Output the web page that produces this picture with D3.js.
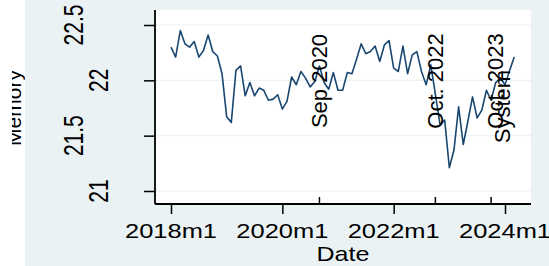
<!DOCTYPE html>
<html>
<head>
<meta charset="utf-8">
<script src="https://cdn.jsdelivr.net/npm/d3@7"></script>
<style>
  body { margin: 0; background: #ffffff; }
  text { font-family: "Liberation Sans", Arial, sans-serif; fill: #000; }
</style>
</head>
<body>
<div class="chart"></div>
<script>
// Memory series, monthly from 2018m1 to 2024m3

var startMonth = "2018m1";
var memory = [
  22.30, 22.21, 22.45, 22.33, 22.30, 22.35, 22.21, 22.27, 22.41, 22.26, 22.22, 22.06,
  21.67, 21.62, 22.09, 22.13, 21.86, 21.98, 21.86, 21.93, 21.91, 21.82, 21.83, 21.87,
  21.74, 21.81, 22.03, 21.96, 22.08, 22.02, 21.94, 21.99, 22.13, 21.98, 21.92, 22.07,
  21.91, 21.91, 22.07, 22.06, 22.19, 22.33, 22.24, 22.26, 22.31, 22.17, 22.32, 22.36,
  22.11, 22.08, 22.31, 22.06, 22.23, 22.26, 22.08, 21.96, 22.14, 21.87, 21.60, 21.64,
  21.21, 21.37, 21.76, 21.42, 21.63, 21.85, 21.66, 21.73, 21.91, 21.82, 21.98, 22.02,
  21.96, 22.09, 22.21
];

var xTicks = ["2018m1", "2020m1", "2022m1", "2024m1"];
var yTicks = [21, 21.5, 22, 22.5];
var yTickLabels = ["21", "21.5", "22", "22.5"];

var eventMonths = ["2020m9", "2022m10", "2023m10"];
var eventLabels = ["Sep 2020", "Oct. 2022", "Oct. 2023"];
var extraLabel = "System";

// stata style monthly index
function monthIndex(s) {
  var p = s.split("m");
  return (+p[0]) * 12 + (+p[1] - 1);
}
var m0 = monthIndex(startMonth);
var data = memory.map(function(v, i) { return { t: m0 + i, v: v }; });

var svgWidth = 549;
var svgHeight = 266;

// plot region
var margin = { top: 10, right: 18, bottom: 62, left: 155 };
var width = svgWidth - margin.left - margin.right;
var height = svgHeight - margin.top - margin.bottom;

var svg = d3.select(".chart")
  .append("svg")
  .attr("width", svgWidth)
  .attr("height", svgHeight);

// graph background
svg.append("rect")
  .attr("x", 25).attr("y", 0)
  .attr("width", svgWidth - 25).attr("height", svgHeight)
  .attr("fill", "#eaf2f3");

var chart = svg.append("g")
  .attr("transform", "translate(" + margin.left + "," + margin.top + ")");

chart.append("rect")
  .attr("width", width).attr("height", height)
  .attr("fill", "#ffffff");

var xScale = d3.scaleLinear()
  .domain([monthIndex("2018m1"), monthIndex("2024m1")])
  .range([16, 350]);

var yScale = d3.scaleLinear()
  .domain([21, 22.5])
  .range([181, 15]);

// gridlines
chart.selectAll(".grid")
  .data(yTicks)
  .enter().append("line")
  .attr("x1", 0).attr("x2", width)
  .attr("y1", function(d) { return yScale(d); })
  .attr("y2", function(d) { return yScale(d); })
  .attr("stroke", "#eaf2f3")
  .attr("stroke-width", 1.2);

// the line
var line = d3.line()
  .x(function(d) { return xScale(d.t); })
  .y(function(d) { return yScale(d.v); });

chart.append("path")
  .datum(data)
  .attr("d", line)
  .attr("fill", "none")
  .attr("stroke", "#1a476f")
  .attr("stroke-width", 1.6)
  .attr("stroke-linejoin", "round");

// event ticks on the x axis
chart.selectAll(".evtick")
  .data(eventMonths)
  .enter().append("line")
  .attr("x1", function(d) { return xScale(monthIndex(d)); })
  .attr("x2", function(d) { return xScale(monthIndex(d)); })
  .attr("y1", height).attr("y2", height - 7)
  .attr("stroke", "#000").attr("stroke-width", 1.5);

// event labels
var evOffsets = [8, 8, 11.5];
chart.selectAll(".evlabel")
  .data(eventLabels)
  .enter().append("text")
  .attr("text-anchor", "middle")
  .style("font-size", "22px")
  .attr("transform", function(d, i) {
    var x = xScale(monthIndex(eventMonths[i])) + evOffsets[i];
    return "translate(" + x + "," + (71) + ") rotate(-90)";
  })
  .text(function(d) { return d; });

chart.append("text")
  .attr("text-anchor", "middle")
  .style("font-size", "22px")
  .attr("transform", "translate(" + (xScale(monthIndex("2023m10")) + 19) + ",96.5) rotate(-90)")
  .text(extraLabel);

// axes
var bottomAxis = d3.axisBottom(xScale)
  .tickValues(xTicks.map(monthIndex))
  .tickSize(10)
  .tickFormat("");

var leftAxis = d3.axisLeft(yScale)
  .tickValues(yTicks)
  .tickSize(11)
  .tickFormat("");

var gx = chart.append("g")
  .attr("transform", "translate(0," + height + ")")
  .call(bottomAxis);
gx.select(".domain").attr("d", "M0,0H" + width);

var gy = chart.append("g")
  .call(leftAxis);
gy.select(".domain").attr("d", "M0,0V" + height);

chart.selectAll(".domain").attr("stroke", "#000").attr("stroke-width", 1.8);
chart.selectAll(".tick line").attr("stroke", "#000").attr("stroke-width", 1.5);

// x tick labels
gx.selectAll(".xlab")
  .data(xTicks)
  .enter().append("text")
  .attr("x", function(d) { return xScale(monthIndex(d)); })
  .attr("y", 34)
  .attr("text-anchor", "middle")
  .attr("textLength", 92)
  .attr("lengthAdjust", "spacingAndGlyphs")
  .style("font-size", "21px")
  .text(function(d) { return d; });

// y tick labels, alternating
gy.selectAll(".ylab")
  .data(yTicks)
  .enter().append("text")
  .attr("text-anchor", "middle")
  .style("font-size", "21px")
  .attr("transform", function(d, i) {
    var x = (i % 2 === 0) ? -47 : -72;
    return "translate(" + x + "," + yScale(d) + ") scale(1.3,1) rotate(-90)";
  })
  .text(function(d, i) { return yTickLabels[i]; });

// axis titles
svg.append("text")
  .attr("x", 343).attr("y", 261)
  .attr("text-anchor", "middle")
  .attr("textLength", 53)
  .attr("lengthAdjust", "spacingAndGlyphs")
  .style("font-size", "21px")
  .text("Date");

// y title is partly cut off at the left edge
svg.append("clipPath").attr("id", "ytclip")
  .append("rect").attr("x", 12).attr("y", 0).attr("width", 13).attr("height", svgHeight);

svg.append("g")
  .attr("clip-path", "url(#ytclip)")
  .append("text")
  .attr("text-anchor", "middle")
  .style("font-size", "21px")
  .attr("transform", "translate(21,108) rotate(-90)")
  .text("Memory");
</script>
</body>
</html>
